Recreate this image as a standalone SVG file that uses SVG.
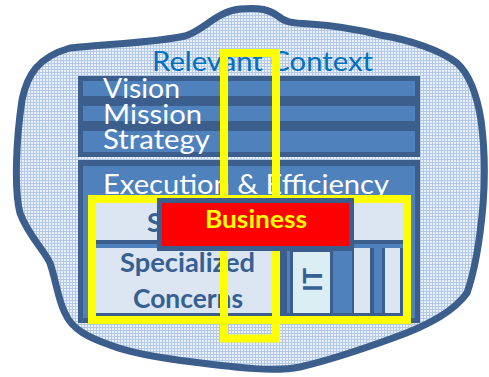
<svg xmlns="http://www.w3.org/2000/svg" width="489" height="377" viewBox="0 0 489 377">
  <defs>
    <pattern id="hatch" width="3" height="3" patternUnits="userSpaceOnUse">
      <rect width="3" height="3" fill="#eaf0f8"/>
      <rect width="1" height="3" fill="#b3c9e6"/>
      <rect width="3" height="1" fill="#b3c9e6"/>
    </pattern>
    <style>
      .dark{fill:#3b5e8c}
      .mid{fill:#4f81bd}
      .light{fill:#dce6f2}
      .wt{font-family:Lato,"Liberation Sans",sans-serif;fill:#ffffff;font-size:27px}
      .bd{font-family:Lato,"Liberation Sans",sans-serif;font-weight:bold;fill:#376092;font-size:27px}
      .yel{fill:none;stroke:#ffff00;stroke-width:8}
    </style>
  </defs>

  <g id="cloud">
    <path d="M 70,48 C 110,44 160,42 185,36 C 205,30 215,12 240,9 C 260,7 270,10 278,16 C 285,22 290,23 310,24 C 340,26 360,30 380,35 C 410,40 440,50 457,63 C 470,75 477,95 481,120 C 485,150 485,180 483,205 C 480,240 475,270 467,293 C 455,310 430,325 393,338 C 360,350 330,360 300,367 C 275,372 240,368 193,362 C 160,358 130,353 110,345 C 90,338 72,330 65,313 C 58,300 56,280 50,263 C 44,250 28,235 20,213 C 14,190 16,140 22,100 C 27,75 38,57 70,48 Z" fill="url(#hatch)" stroke="#3b5e8c" stroke-width="7"/>
    <text x="152" y="71" font-family="Lato,'Liberation Sans',sans-serif" font-size="27" fill="#0070c0" textLength="221" lengthAdjust="spacingAndGlyphs">Relevant Context</text>
  </g>

  <g id="vms">
    <rect class="dark" x="78" y="76" width="342" height="81"/>
    <rect class="mid" x="83" y="81" width="332" height="15"/>
    <rect class="mid" x="83" y="106" width="332" height="15"/>
    <rect class="mid" x="83" y="131" width="332" height="21"/>
    <text class="wt" x="103" y="98" textLength="77" lengthAdjust="spacingAndGlyphs">Vision</text>
    <text class="wt" x="103" y="124" textLength="99" lengthAdjust="spacingAndGlyphs">Mission</text>
    <text class="wt" x="103" y="149" textLength="107" lengthAdjust="spacingAndGlyphs">Strategy</text>
  </g>

  <g id="execution">
    <rect class="dark" x="78" y="160" width="342" height="163"/>
    <rect class="mid" x="83" y="166" width="332" height="152"/>
    <text class="wt" x="103" y="194" font-size="26" textLength="286" lengthAdjust="spacingAndGlyphs">Execution &amp; Efficiency</text>
  </g>

  <g id="concerns">
    <rect class="dark" x="92" y="199" width="315" height="121"/>
    <rect class="light" x="96" y="203" width="307" height="37"/>
    <rect class="mid" x="96" y="244" width="307" height="4"/>
    <text class="bd" x="147" y="232">S</text>
    <rect class="light" x="96" y="248" width="177" height="65"/>
    <text class="bd" x="120" y="272" textLength="135" lengthAdjust="spacingAndGlyphs">Specialized</text>
    <text class="bd" x="133" y="308" textLength="110" lengthAdjust="spacingAndGlyphs">Concerns</text>
    <rect class="mid" x="287" y="248" width="3" height="65"/>
    <rect x="293" y="252" width="37" height="61" fill="#dbeef4"/>
    <text class="bd" x="322" y="280" font-size="25" text-anchor="middle" transform="rotate(-90 322 280)">IT</text>
    <rect class="mid" x="333" y="248" width="19" height="65"/>
    <rect class="light" x="354" y="248" width="16" height="65"/>
    <rect class="mid" x="374" y="248" width="8" height="65"/>
    <rect class="light" x="385" y="248" width="15" height="65"/>
  </g>

  <g id="highlights">
    <rect class="yel" x="224" y="53" width="52" height="285.5"/>
    <rect class="yel" x="92" y="199" width="315" height="121"/>
  </g>

  <g id="business">
    <rect x="159.5" y="200.5" width="192" height="48" fill="#ff0000" stroke="#3b5e8c" stroke-width="5"/>
    <text x="256" y="228" text-anchor="middle" font-family="Lato,'Liberation Sans',sans-serif" font-weight="bold" font-size="25" fill="#ffff00" textLength="102" lengthAdjust="spacingAndGlyphs">Business</text>
  </g>

  <g id="connectors"/>
</svg>
